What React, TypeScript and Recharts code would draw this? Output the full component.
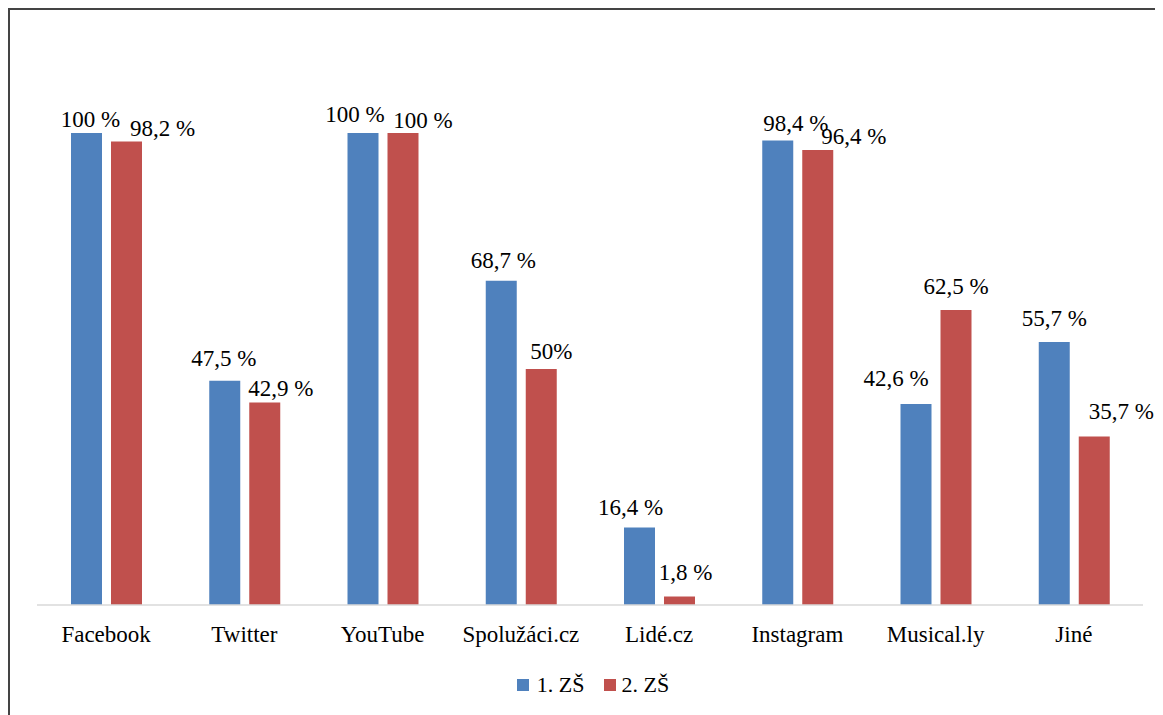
import React from 'react';
import { BarChart, Bar, XAxis, YAxis, Legend } from 'recharts';

const categories = ['Facebook', 'Twitter', 'YouTube', 'Spolužáci.cz', 'Lidé.cz', 'Instagram', 'Musical.ly', 'Jiné'];
const zs1 = [100, 47.5, 100, 68.7, 16.4, 98.4, 42.6, 55.7];
const zs2 = [98.2, 42.9, 100, 50, 1.8, 96.4, 62.5, 35.7];

const fmt = (v: number) => String(v).replace('.', ',') + ' %';
const zs1Text = zs1.map(fmt);
const zs2Text = zs2.map(fmt);
zs2Text[3] = '50%'; // printed without the space in the source

// label nudges (hand placed in the original): horizontal shift, gap above bar
const blueDx = [4, -1, -8, 2, -9, 18, -20, 0];
const blueGap = [6, 15, 11, 13, 13, 10, 18, 16];
const redDx = [36, 16, 20, 10, 6, 36, 0, 27];
const redGap = [5, 7, 5, 10, 17, 6, 16, 17];

const BLUE = '#4F81BD';
const RED = '#C0504D';
const FONT = 'Liberation Serif';

const data = categories.map((name, i) => ({ name, zs1: zs1[i], zs2: zs2[i] }));

const makeLabel = (texts: string[], dx: number[], gap: number[]) => (props: any) => {
  const { x, y, width, index } = props;
  return (
    <text
      x={x + width / 2 + dx[index]}
      y={y - gap[index]}
      textAnchor="middle"
      style={{ fontFamily: FONT, fontSize: 23 }}
      fill="#000"
    >
      {texts[index]}
    </text>
  );
};

const LegendContent = () => (
  <div style={{ height: 26, display: 'flex', justifyContent: 'center', alignItems: 'center', fontFamily: FONT, fontSize: 22, color: '#000', paddingLeft: 6 }}>
    <span style={{ display: 'inline-block', width: 12, height: 12, background: BLUE, marginRight: 8 }} />
    <span style={{ marginRight: 19 }}>1. ZŠ</span>
    <span style={{ display: 'inline-block', width: 12, height: 12, background: RED, marginRight: 6 }} />
    <span>2. ZŠ</span>
  </div>
);

export default function App() {
  return (
    <div style={{ width: 1153, height: 705, borderTop: '2px solid #444', borderLeft: '2px solid #444', background: '#fff' }}>
      <BarChart
        width={1153}
        height={700}
        data={data}
        margin={{ top: 123, right: 20, bottom: 49, left: 27 }}
        barSize={31}
        barGap={9}
      >
        <XAxis
          dataKey="name"
          height={30}
          axisLine={{ stroke: '#d9d9d9', strokeWidth: 1.5 }}
          tickLine={false}
          tickSize={0}
          tickMargin={21}
          interval={0}
          tick={{ fontFamily: FONT, fontSize: 23, fill: '#000' }}
        />
        <YAxis hide domain={[0, 100]} />
        <Legend
          verticalAlign="bottom"
          wrapperStyle={{ bottom: 12 }}
          content={<LegendContent />}
        />
        <Bar dataKey="zs1" name="1. ZŠ" fill={BLUE} isAnimationActive={false} label={makeLabel(zs1Text, blueDx, blueGap)} />
        <Bar dataKey="zs2" name="2. ZŠ" fill={RED} isAnimationActive={false} label={makeLabel(zs2Text, redDx, redGap)} />
      </BarChart>
    </div>
  );
}
